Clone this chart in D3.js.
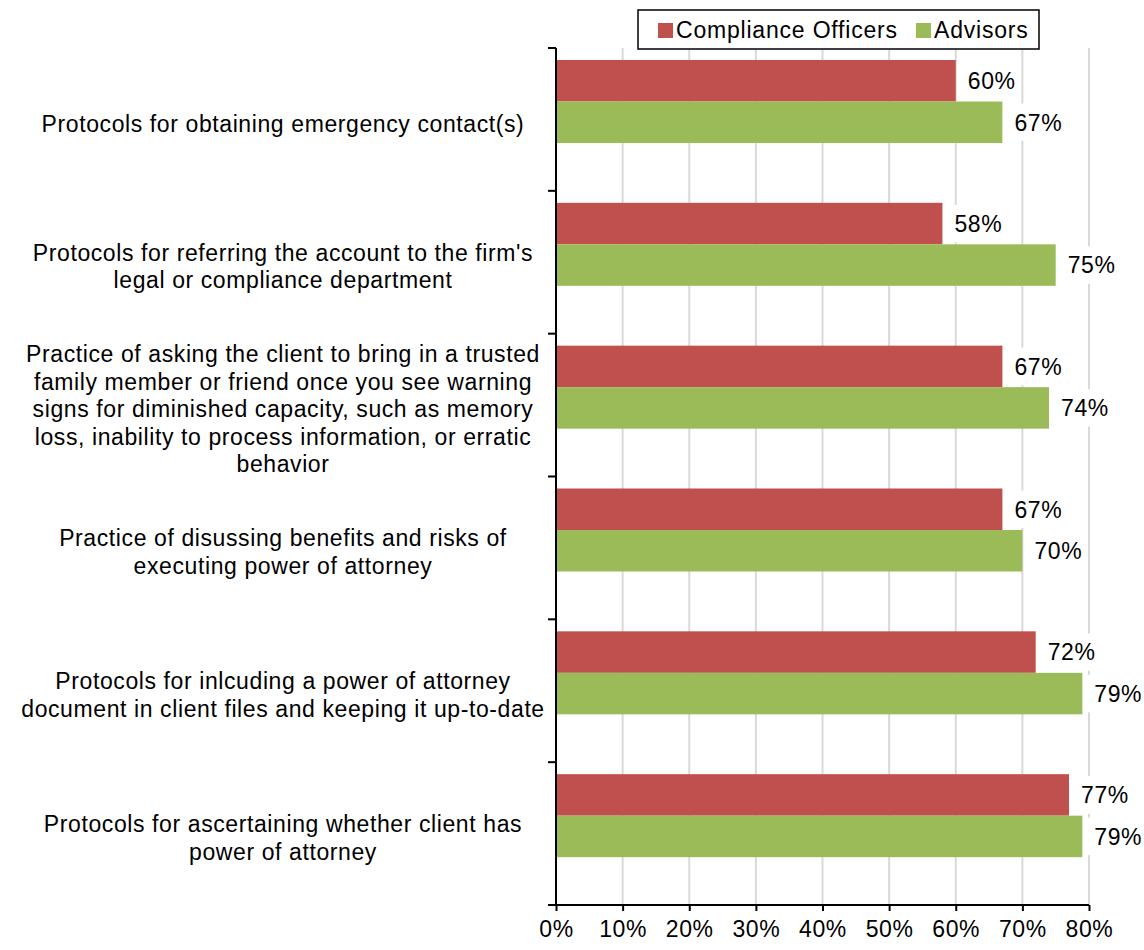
<!DOCTYPE html>
<html>
<head>
<meta charset="utf-8">
<script src="https://cdn.jsdelivr.net/npm/d3@7"></script>
<style>
  body { margin: 0; background: #fff; }
  svg text { font-family: "Liberation Sans", Arial, sans-serif; fill: #000; }
</style>
</head>
<body>
<svg id="chart"></svg>
<script>
// chart size
var width = 1144;
var height = 950;

// data
var categories = [
  'Protocols for obtaining emergency contact(s)',
  "Protocols for referring the account to the firm's legal or compliance department",
  'Practice of asking the client to bring in a trusted family member or friend once you see warning signs for diminished capacity, such as memory loss, inability to process information, or erratic behavior',
  'Practice of disussing benefits and risks of executing power of attorney',
  'Protocols for inlcuding a power of attorney document in client files and keeping it up-to-date',
  'Protocols for ascertaining whether client has power of attorney'
];
// how each category label wraps
var categoryLines = [
  ['Protocols for obtaining emergency contact(s)'],
  ["Protocols for referring the account to the firm's", 'legal or compliance department'],
  ['Practice of asking the client to bring in a trusted', 'family member or friend once you see warning',
   'signs for diminished capacity, such as memory', 'loss, inability to process information, or erratic', 'behavior'],
  ['Practice of disussing benefits and risks of', 'executing power of attorney'],
  ['Protocols for inlcuding a power of attorney', 'document in client files and keeping it up-to-date'],
  ['Protocols for ascertaining whether client has', 'power of attorney']
];
var seriesNames = ['Compliance Officers', 'Advisors'];
var complianceOfficers = [0.60, 0.58, 0.67, 0.67, 0.72, 0.77];
var advisors = [0.67, 0.75, 0.74, 0.70, 0.79, 0.79];
var xTicks = [0, 0.1, 0.2, 0.3, 0.4, 0.5, 0.6, 0.7, 0.8];
var colors = ['#c0504d', '#9bbb59'];

var rows = categories.map((c, i) => ({
  category: c,
  lines: categoryLines[i],
  values: [complianceOfficers[i], advisors[i]]
}));

// plot area (don't use "top" - it's window.top)
var plotLeft = 556, plotRight = 1089, plotTop = 48, plotBottom = 905;
var fontSize = 23;
var spacing = 0.6;

var svg = d3.select('#chart')
  .attr('width', width)
  .attr('height', height);

var x = d3.scaleLinear().domain([0, 0.8]).range([plotLeft, plotRight]);
var y = d3.scaleBand().domain(categories).range([plotTop, plotBottom]);
var bw = y.bandwidth();
// bars sit in the upper part of each band (like the original)
var ySeries = d3.scaleBand().domain(seriesNames).range([bw * 0.084, bw * 0.665]);

// gridlines
svg.append('g')
  .selectAll('line')
  .data(xTicks.slice(1))
  .enter()
  .append('line')
    .attr('x1', d => x(d)).attr('x2', d => x(d))
    .attr('y1', plotTop).attr('y2', plotBottom)
    .attr('stroke', '#d9d9d9')
    .attr('stroke-width', 2);

// bars
var groups = svg.append('g')
  .selectAll('g')
  .data(rows)
  .enter()
  .append('g')
    .attr('transform', d => 'translate(0,' + y(d.category) + ')');

groups.selectAll('rect')
  .data(d => d.values.map((v, j) => ({ v: v, s: seriesNames[j], j: j })))
  .enter()
  .append('rect')
    .attr('x', x(0))
    .attr('y', d => ySeries(d.s))
    .attr('width', d => x(d.v) - x(0))
    .attr('height', ySeries.bandwidth())
    .attr('fill', d => colors[d.j]);

// value labels with white backgrounds
var labels = groups.selectAll('g.lbl')
  .data(d => d.values.map((v, j) => ({ v: v, s: seriesNames[j] })))
  .enter()
  .append('g')
    .attr('class', 'lbl');

labels.append('rect')
  .attr('x', d => x(d.v) + 3)
  .attr('y', d => ySeries(d.s) + 2)
  .attr('width', 60)
  .attr('height', ySeries.bandwidth() - 4)
  .attr('fill', '#fff');

labels.append('text')
  .attr('x', d => x(d.v) + 12)
  .attr('y', d => ySeries(d.s) + ySeries.bandwidth() / 2)
  .attr('dy', '0.36em')
  .attr('font-size', fontSize)
  .attr('letter-spacing', spacing)
  .text(d => d3.format('.0%')(d.v));

// category labels
var lineH = 27.5;
var catText = svg.append('g')
  .selectAll('text')
  .data(rows)
  .enter()
  .append('text')
    .attr('text-anchor', 'middle')
    .attr('font-size', fontSize)
    .attr('letter-spacing', spacing);

catText.selectAll('tspan')
  .data(d => d.lines.map((l, k) => ({ l: l, k: k, n: d.lines.length, c: d.category })))
  .enter()
  .append('tspan')
    .attr('x', 283)
    .attr('y', d => y(d.c) + bw / 2 + 4 + (d.k - (d.n - 1) / 2) * lineH)
    .attr('dy', '0.36em')
    .text(d => d.l);

// y axis (category boundaries)
var yAxis = svg.append('g');
yAxis.append('line')
  .attr('x1', plotLeft).attr('x2', plotLeft)
  .attr('y1', plotTop).attr('y2', plotBottom + 1)
  .attr('stroke', '#000').attr('stroke-width', 2);
yAxis.selectAll('line.tick')
  .data(categories.map(c => y(c)).concat([plotBottom]))
  .enter()
  .append('line')
    .attr('class', 'tick')
    .attr('x1', plotLeft - 8).attr('x2', plotLeft)
    .attr('y1', d => d).attr('y2', d => d)
    .attr('stroke', '#000').attr('stroke-width', 2);

// x axis
var xAxis = svg.append('g')
  .attr('transform', 'translate(0,' + plotBottom + ')')
  .call(d3.axisBottom(x)
    .tickValues(xTicks)
    .tickFormat(d3.format('.0%'))
    .tickSizeInner(6)
    .tickSizeOuter(0)
    .tickPadding(10));
xAxis.select('.domain').attr('stroke', '#000').attr('stroke-width', 2)
  .attr('d', 'M' + (plotLeft - 8) + ',0H' + plotRight);
xAxis.selectAll('.tick line').attr('stroke', '#000').attr('stroke-width', 2);
xAxis.selectAll('.tick text')
  .attr('font-family', '"Liberation Sans", Arial, sans-serif')
  .attr('font-size', fontSize)
  .attr('letter-spacing', spacing)
  .attr('fill', '#000');

// legend
var legend = svg.append('g');
legend.append('rect')
  .attr('x', 638).attr('y', 10)
  .attr('width', 401).attr('height', 39)
  .attr('fill', '#fff')
  .attr('stroke', '#000')
  .attr('stroke-width', 1.5);

var legendX = [658, 916];
var items = legend.selectAll('g.item')
  .data(seriesNames)
  .enter()
  .append('g')
    .attr('class', 'item')
    .attr('transform', (d, i) => 'translate(' + legendX[i] + ',0)');
items.append('rect')
  .attr('x', 0).attr('y', 23)
  .attr('width', 15).attr('height', 15)
  .attr('fill', (d, i) => colors[i]);
items.append('text')
  .attr('x', 18).attr('y', 30)
  .attr('dy', '0.36em')
  .attr('font-size', fontSize)
  .attr('letter-spacing', 0.8)
  .text(d => d);
</script>
</body>
</html>
